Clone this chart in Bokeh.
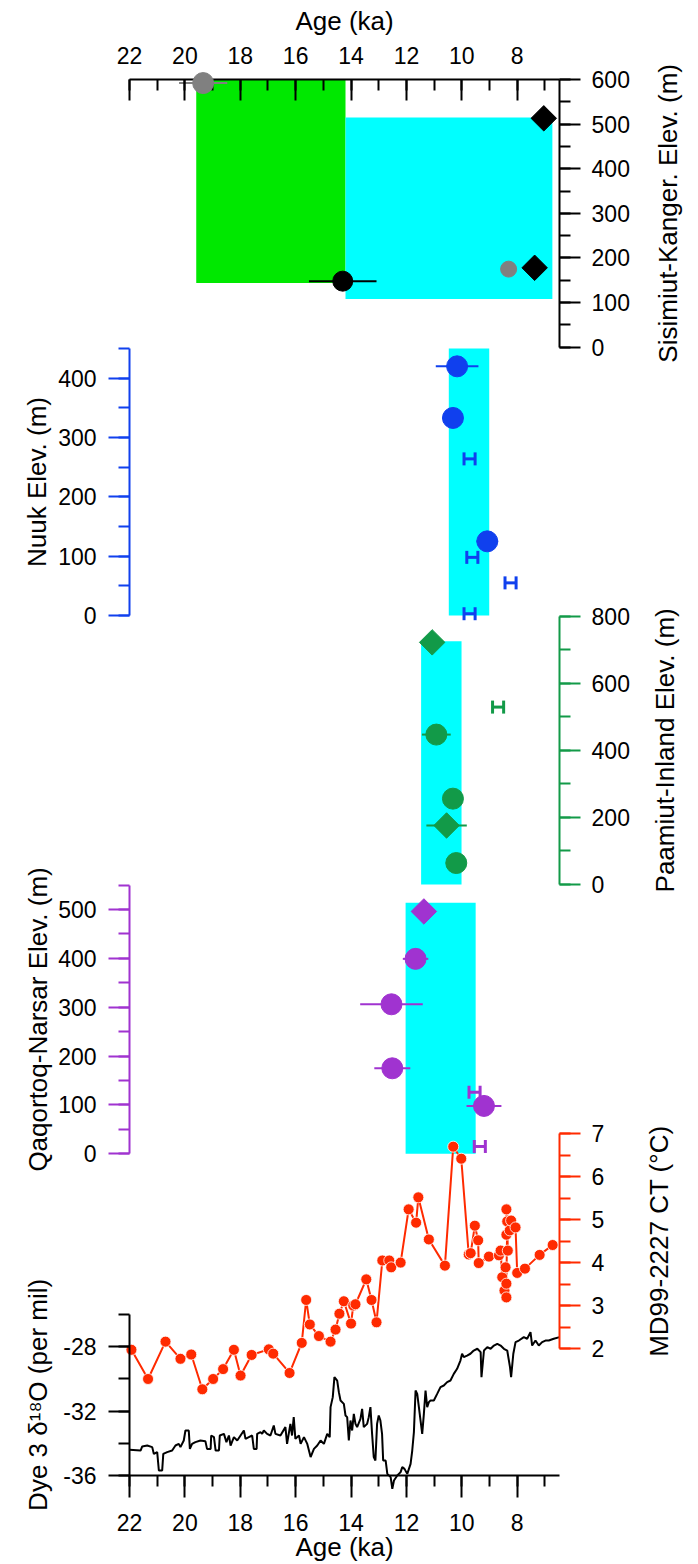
import math
from bokeh.plotting import figure
from bokeh.models import (Range1d, LinearAxis, SingleIntervalTicker, Label,
                          ColumnDataSource, Whisker, TeeHead, PrintfTickFormatter)
from bokeh.embed import file_html
from bokeh.resources import INLINE

# ---------------- data ----------------
age_start, age_end = 22.0, 6.47

# Sisimiut-Kangerlussuaq
sis_green_left, sis_green_right, sis_green_bottom, sis_green_top = [19.59], [14.20], [144], [600]
sis_cyan_left, sis_cyan_right, sis_cyan_bottom, sis_cyan_top = [14.20], [6.73], [108], [515]
sis_grey_age, sis_grey_elev, sis_grey_err = [19.34], [592], [0.87]
sis_black_age, sis_black_elev, sis_black_err = [14.30], [148], [1.22]
sis_grey_small_age, sis_grey_small_elev = [8.31], [175]
sis_dia_age, sis_dia_elev = [7.04, 7.37], [513, 178]

# Nuuk
nuuk_box_left, nuuk_box_right, nuuk_box_bottom, nuuk_box_top = [10.47], [9.01], [0], [450]
nuuk_circ_age = [10.17, 10.32, 9.08]
nuuk_circ_elev = [420, 333, 125]
nuuk_circ_err = [0.77, 0.0, 0.39]
nuuk_h_age = [9.72, 9.62, 8.24, 9.72]
nuuk_h_elev = [264, 98, 55, 3]
nuuk_h_err = [0.2, 0.2, 0.2, 0.2]

# Paamiut-Inland
paam_box_left, paam_box_right, paam_box_bottom, paam_box_top = [11.47], [10.01], [0], [725]
paam_dia_age, paam_dia_elev, paam_dia_err = [11.07, 10.55], [722, 176], [0.0, 0.73]
paam_circ_age = [10.92, 10.32, 10.20]
paam_circ_elev = [447, 256, 64]
paam_circ_err = [0.52, 0.0, 0.0]
paam_h_age, paam_h_elev, paam_h_err = [8.69], [529], [0.2]

# Qaqortoq-Narsarsuaq
qaq_box_left, qaq_box_right, qaq_box_bottom, qaq_box_top = [12.03], [9.50], [0], [514]
qaq_dia_age, qaq_dia_elev = [11.37], [496]
qaq_circ_age = [11.67, 12.54, 12.51, 9.20]
qaq_circ_elev = [399, 306, 175, 98]
qaq_circ_err = [0.46, 1.13, 0.65, 0.63]
qaq_h_age, qaq_h_elev, qaq_h_err = [9.54, 9.35], [126, 15], [0.2, 0.2]

# MD99-2227 CT (degC)
md_age = [21.93, 21.33, 20.70, 20.16, 19.77, 19.37, 18.98, 18.62, 18.23, 17.99, 17.59,
          16.97, 16.81, 16.22, 15.78, 15.62, 15.49, 15.16, 14.74, 14.56, 14.42, 14.26,
          14.00, 13.92, 13.84, 13.45, 13.26, 13.08, 12.87, 12.62, 12.55, 12.21, 11.92,
          11.65, 11.57, 11.19, 10.61, 10.31, 10.02, 9.75, 9.68, 9.53, 9.41, 9.39, 9.02,
          8.66, 8.60, 8.54, 8.46, 8.42, 8.39, 8.39, 8.36, 8.34, 8.39, 8.39, 8.27, 8.22,
          8.06, 8.00, 7.72, 7.19, 6.72]
md_temp = [1.97, 1.29, 2.16, 1.76, 1.86, 1.05, 1.29, 1.52, 1.97, 1.37, 1.85,
           1.98, 1.88, 1.43, 2.13, 3.13, 2.56, 2.29, 2.16, 2.44, 2.81, 3.10,
           2.58, 3.00, 3.03, 3.61, 3.13, 2.61, 4.05, 4.05, 3.89, 4.00, 5.24,
           4.93, 5.52, 4.54, 3.93, 6.70, 6.42, 4.19, 4.22, 4.86, 4.52, 3.99, 4.14,
           4.17, 4.28, 3.66, 3.35, 3.89, 3.19, 3.51, 4.96, 4.28, 4.65, 5.24, 4.75, 4.98,
           4.82, 3.76, 3.86, 4.18, 4.41]

# Dye 3 d18O (per mil)
dye_age = [22.00, 21.60, 21.54, 21.36, 21.18, 21.12, 21.00, 20.94, 20.82, 20.78, 20.64,
           20.46, 20.34, 20.22, 20.16, 20.04, 19.98, 19.86, 19.82, 19.74, 19.62, 19.44,
           19.26, 19.20, 19.07, 19.05, 18.95, 18.89, 18.77, 18.74, 18.59, 18.50, 18.41,
           18.35, 18.23, 18.11, 17.99, 17.87, 17.81, 17.69, 17.57, 17.51, 17.41, 17.39,
           17.27, 17.21, 17.15, 17.03, 16.91, 16.85, 16.79, 16.73, 16.55, 16.37, 16.31,
           16.19, 16.13, 16.07, 16.01, 15.88, 15.82, 15.70, 15.58, 15.46, 15.34, 15.22,
           15.10, 14.98, 14.86, 14.77, 14.74, 14.66, 14.60, 14.50, 14.44, 14.38, 14.26,
           14.20, 14.14, 14.08, 14.02, 13.96, 13.90, 13.84, 13.78, 13.66, 13.60, 13.54,
           13.42, 13.36, 13.30, 13.24, 13.18, 13.12, 13.06, 13.00, 12.94, 12.88, 12.84,
           12.75, 12.69, 12.57, 12.51, 12.45, 12.33, 12.21, 12.15, 12.07, 11.97, 11.85,
           11.79, 11.73, 11.67, 11.61, 11.55, 11.49, 11.43, 11.37, 11.31, 11.25, 11.19,
           11.13, 11.01, 10.89, 10.77, 10.65, 10.53, 10.41, 10.29, 10.17, 10.05, 9.99,
           9.93, 9.81, 9.69, 9.57, 9.44, 9.32, 9.29, 9.20, 9.08, 8.96, 8.84, 8.72, 8.60,
           8.48, 8.36, 8.26, 8.22, 8.14, 8.06, 7.94, 7.76, 7.64, 7.52, 7.46, 7.34, 7.22,
           7.10, 6.98, 6.86, 6.68, 6.47]
dye_d18o = [-34.41, -34.45, -34.20, -34.14, -34.24, -34.66, -34.55, -35.69, -35.69, -34.66, -34.55,
            -34.45, -34.14, -34.04, -34.24, -33.83, -33.21, -33.21, -34.35, -34.04, -33.93, -33.83,
            -33.87, -34.35, -34.35, -33.52, -33.62, -34.45, -34.45, -33.52, -33.42, -33.93, -33.52,
            -34.14, -33.62, -33.83, -33.52, -33.21, -33.73, -33.62, -33.52, -34.35, -34.35, -33.42,
            -33.31, -33.42, -33.21, -33.42, -33.52, -33.21, -32.90, -33.42, -33.52, -33.00, -34.04,
            -32.80, -33.52, -32.38, -33.73, -33.52, -34.04, -33.62, -34.04, -34.86, -34.35, -34.14,
            -33.83, -34.04, -33.42, -33.62, -31.76, -31.14, -29.90, -30.11, -30.83, -31.35, -31.56,
            -32.28, -32.38, -33.83, -32.59, -33.21, -32.18, -32.80, -33.00, -32.49, -31.87, -33.00,
            -32.80, -32.38, -31.76, -33.42, -34.86, -35.07, -32.80, -32.28, -32.59, -33.42, -35.07,
            -35.07, -35.90, -36.10, -36.83, -36.31, -36.00, -35.79, -35.48, -35.59, -35.90, -35.28,
            -34.45, -33.31, -30.73, -30.94, -31.76, -32.59, -33.42, -32.18, -30.73, -31.76, -31.45,
            -31.35, -31.35, -30.94, -30.52, -30.42, -30.21, -30.11, -29.70, -29.38, -28.87, -28.45,
            -28.66, -28.56, -28.45, -28.25, -28.14, -28.35, -29.90, -28.25, -28.04, -28.14, -27.94,
            -27.83, -27.94, -28.14, -28.25, -29.28, -29.90, -28.45, -27.73, -27.63, -27.42, -27.52,
            -27.11, -27.94, -27.63, -27.94, -27.73, -27.63, -27.63, -27.52, -27.42]

# ---------------- styling / layout ----------------
FONT = "Liberation Sans"
BLACK, GREY = "#000000", "#808080"
BLUE, GREEN, PURPLE, RED = "#1040ee", "#129a48", "#a033d0", "#ff2a00"
CYAN, LIME = "#00ffff", "#00e800"

W, H = 698, 1564
PX22, PX8 = 129.0, 516.7            # page x of ages 22 and 8
KX = (PX8 - PX22) / 14.0            # px per ka
X_LEFT = 22 + PX22 / KX             # age at page x = 0
X_RIGHT = 22 - (W - PX22) / KX      # age at page x = W
TOP_Y, BOT_Y = 79, 1475             # page y of the top and bottom age axes


def yr(v0, p0, v1, p1):
    k = (p0 - p1) / (v1 - v0)
    return Range1d(v0 - (H - p0) / k, v1 + p1 / k)


p = figure(width=W, height=H, x_range=Range1d(X_LEFT, X_RIGHT), y_range=Range1d(H, 0),
           x_axis_location=None, y_axis_location=None, toolbar_location=None,
           output_backend="svg", min_border=0, outline_line_color=None,
           background_fill_color="white", border_fill_color="white")
p.grid.visible = False
p.title.visible = False

p.extra_y_ranges = {
    "sis": yr(0, 346.7, 600, 79),
    "nuuk": yr(0, 615, 400, 377.7),
    "paam": yr(0, 884, 800, 615.7),
    "qaq": yr(0, 1153.3, 500, 909),
    "md": yr(2, 1348, 7, 1133.3),
    "dye": yr(-36, 1475, -28, 1346),
}


def style_axis(ax, color, tick_in, tick_out, mtick_in, mtick_out, standoff):
    ax.axis_line_color = color
    ax.axis_line_width = 2
    ax.major_tick_line_color = color
    ax.major_tick_line_width = 2
    ax.minor_tick_line_color = color
    ax.minor_tick_line_width = 2
    ax.major_tick_in = tick_in
    ax.major_tick_out = tick_out
    ax.minor_tick_in = mtick_in
    ax.minor_tick_out = mtick_out
    ax.major_label_text_font = FONT
    ax.major_label_text_font_size = "23px"
    ax.major_label_text_color = "black"
    ax.major_label_standoff = standoff


def add_y(rng, side, bounds, interval, color, fmt=None):
    loc = age_start if side == "left" else age_end
    ax = LinearAxis(y_range_name=rng, bounds=bounds, fixed_location=loc,
                    ticker=SingleIntervalTicker(interval=interval, num_minor_ticks=2))
    if fmt is not None:
        ax.formatter = PrintfTickFormatter(format=fmt)
    style_axis(ax, color, 0, 21, 0, 11, 12 if side == "left" else 11)
    p.add_layout(ax, side)


def add_title(text, side, rng, yv, xoff):
    x = age_start if side == "left" else age_end
    p.add_layout(Label(x=x, y=yv, y_range_name=rng, x_offset=xoff, text=text,
                       angle=math.pi / 2, text_align="center", text_baseline="middle",
                       text_font=FONT, text_font_size="26px", text_color="black"))


# x axes
top_ax = LinearAxis(fixed_location=TOP_Y, bounds=(age_end, age_start),
                    ticker=SingleIntervalTicker(interval=2, num_minor_ticks=2))
style_axis(top_ax, BLACK, 21, 0, 11, 0, 16)
p.add_layout(top_ax, "above")
bot_ax = LinearAxis(fixed_location=BOT_Y, bounds=(age_end, age_start),
                    ticker=SingleIntervalTicker(interval=2, num_minor_ticks=2))
style_axis(bot_ax, BLACK, 0, 22, 0, 11, 16)
p.add_layout(bot_ax, "below")

mid_age = (age_start + age_end) / 2
p.add_layout(Label(x=mid_age, y=20, text="Age (ka)", text_align="center",
                   text_baseline="middle", text_font=FONT, text_font_size="26px",
                   text_color="black"))
p.add_layout(Label(x=mid_age, y=1546, text="Age (ka)", text_align="center",
                   text_baseline="middle", text_font=FONT, text_font_size="26px",
                   text_color="black"))

# y axes
add_y("sis", "right", (0, 600), 100, BLACK)
add_y("nuuk", "left", (0, 450), 100, BLUE)
add_y("paam", "right", (0, 800), 200, GREEN)
add_y("qaq", "left", (0, 550), 100, PURPLE)
add_y("md", "right", (2, 7), 1, RED)
add_y("dye", "left", (-36, -26), 4, BLACK, fmt="%d")

add_title("Sisimiut-Kanger. Elev. (m)", "right", "sis", 300, 108)
add_title("Nuuk Elev. (m)", "left", "nuuk", 225, -93)
add_title("Paamiut-Inland Elev. (m)", "right", "paam", 400, 105)
add_title("Qaqortoq-Narsar Elev. (m)", "left", "qaq", 275, -92)
add_title("MD99-2227 CT (°C)", "right", "md", 4.5, 99)
add_title("Dye 3 δ¹⁸O (per mil)", "left", "dye", -31, -92)

# boxes
p.quad(left=sis_green_left, right=sis_green_right, bottom=sis_green_bottom, top=sis_green_top,
       y_range_name="sis", fill_color=LIME, line_color=None)
p.quad(left=sis_cyan_left, right=sis_cyan_right, bottom=sis_cyan_bottom, top=sis_cyan_top,
       y_range_name="sis", fill_color=CYAN, line_color=None)
p.quad(left=nuuk_box_left, right=nuuk_box_right, bottom=nuuk_box_bottom, top=nuuk_box_top,
       y_range_name="nuuk", fill_color=CYAN, line_color=None)
p.quad(left=paam_box_left, right=paam_box_right, bottom=paam_box_bottom, top=paam_box_top,
       y_range_name="paam", fill_color=CYAN, line_color=None)
p.quad(left=qaq_box_left, right=qaq_box_right, bottom=qaq_box_bottom, top=qaq_box_top,
       y_range_name="qaq", fill_color=CYAN, line_color=None)

# curves
p.line(dye_age, dye_d18o, y_range_name="dye", line_color=BLACK, line_width=2)
p.line(md_age, md_temp, y_range_name="md", line_color=RED, line_width=2)
p.scatter(md_age, md_temp, y_range_name="md", marker="circle", size=11,
          fill_color=RED, line_color="white", line_width=0.8)


def xerr(ages, elevs, errs, rng, color):
    x0 = [a - e for a, e in zip(ages, errs)]
    x1 = [a + e for a, e in zip(ages, errs)]
    p.segment(x0=x0, y0=elevs, x1=x1, y1=elevs, y_range_name=rng, line_color=color, line_width=2)


def hbars(ages, elevs, errs, rng, color):
    src = ColumnDataSource(dict(base=elevs,
                                lower=[a - e for a, e in zip(ages, errs)],
                                upper=[a + e for a, e in zip(ages, errs)]))
    w = Whisker(source=src, base="base", lower="lower", upper="upper", dimension="width",
                y_range_name=rng, line_color=color, line_width=3, level="annotation",
                upper_head=TeeHead(size=13, line_color=color, line_width=3),
                lower_head=TeeHead(size=13, line_color=color, line_width=3))
    p.add_layout(w)


def pts(ages, elevs, rng, color, marker="circle", size=21):
    ang = math.pi / 4 if marker == "square" else 0
    r = p.scatter(ages, elevs, y_range_name=rng, marker=marker, size=size, angle=ang,
                  fill_color=color, line_color=color)
    r.level = "overlay"


# Sisimiut
xerr(sis_grey_age, sis_grey_elev, sis_grey_err, "sis", GREY)
xerr(sis_black_age, sis_black_elev, sis_black_err, "sis", BLACK)
pts(sis_grey_age, sis_grey_elev, "sis", GREY)
pts(sis_black_age, sis_black_elev, "sis", BLACK, size=20)
pts(sis_grey_small_age, sis_grey_small_elev, "sis", GREY, size=16)
pts(sis_dia_age, sis_dia_elev, "sis", BLACK, marker="square", size=18)

# Nuuk
xerr(nuuk_circ_age, nuuk_circ_elev, nuuk_circ_err, "nuuk", BLUE)
hbars(nuuk_h_age, nuuk_h_elev, nuuk_h_err, "nuuk", BLUE)
pts(nuuk_circ_age, nuuk_circ_elev, "nuuk", BLUE)

# Paamiut
xerr(paam_circ_age, paam_circ_elev, paam_circ_err, "paam", GREEN)
xerr(paam_dia_age, paam_dia_elev, paam_dia_err, "paam", GREEN)
hbars(paam_h_age, paam_h_elev, paam_h_err, "paam", GREEN)
pts(paam_circ_age, paam_circ_elev, "paam", GREEN)
pts(paam_dia_age, paam_dia_elev, "paam", GREEN, marker="square", size=18)

# Qaqortoq
xerr(qaq_circ_age, qaq_circ_elev, qaq_circ_err, "qaq", PURPLE)
hbars(qaq_h_age, qaq_h_elev, qaq_h_err, "qaq", PURPLE)
pts(qaq_circ_age, qaq_circ_elev, "qaq", PURPLE)
pts(qaq_dia_age, qaq_dia_elev, "qaq", PURPLE, marker="square", size=18)

open("out.html", "w").write(file_html(p, INLINE))
